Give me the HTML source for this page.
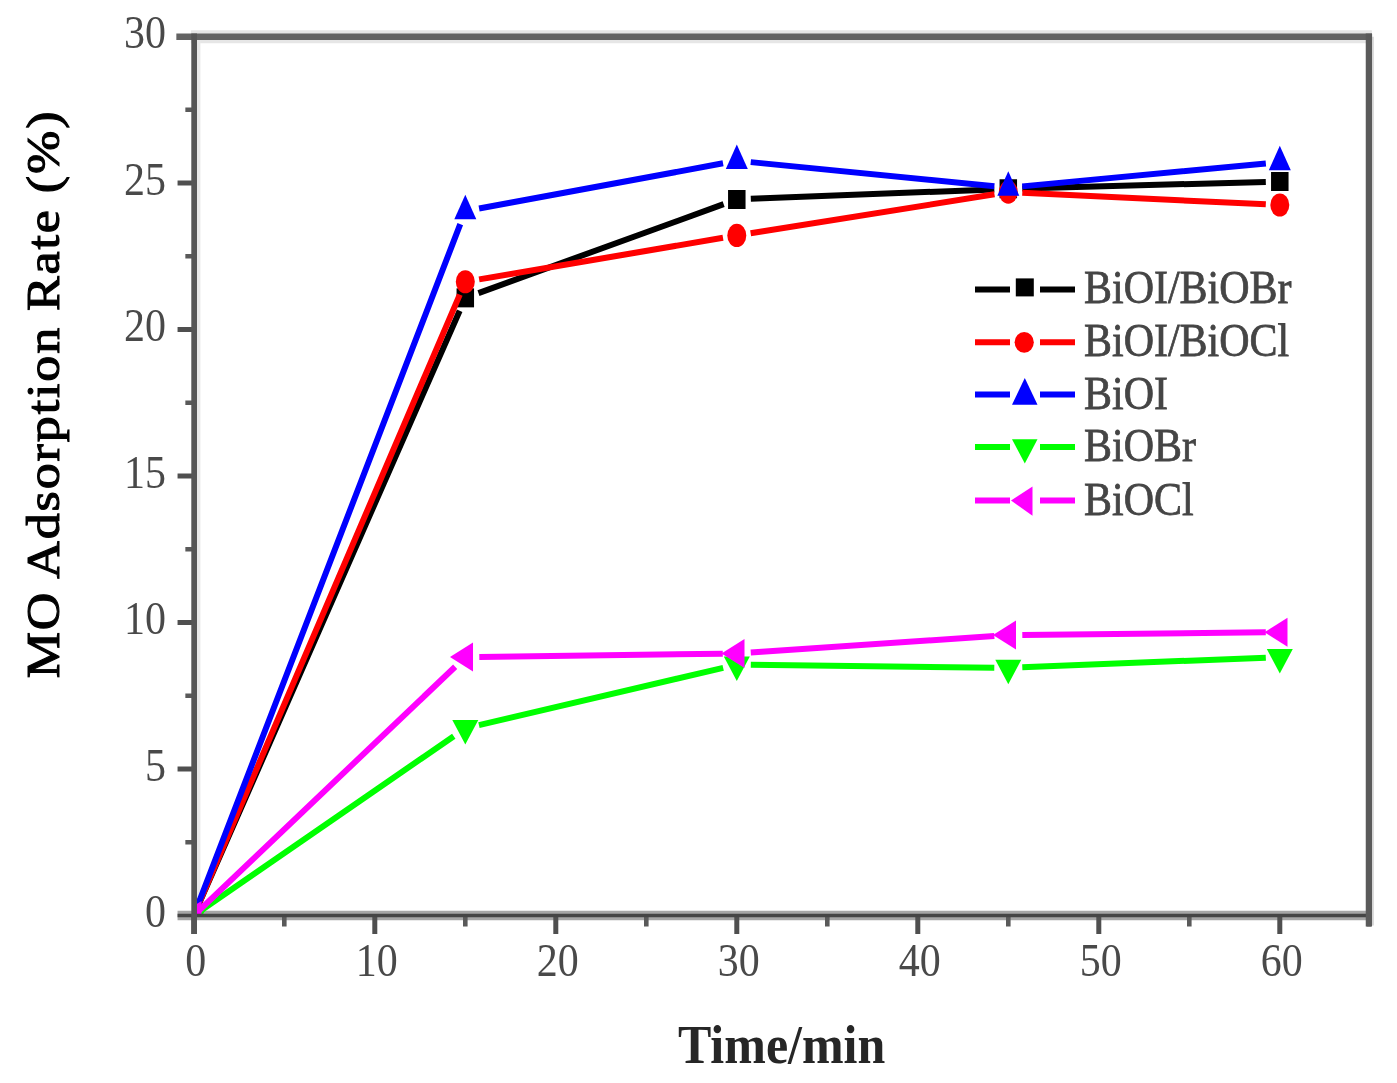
<!DOCTYPE html><html><head><meta charset="utf-8"><style>
html,body{margin:0;padding:0;background:#fff;}
svg{display:block;}
text{font-family:"Liberation Serif",serif;}
</style></head><body>
<svg width="1397" height="1083" viewBox="0 0 1397 1083">
<defs><filter id="bl" x="0" y="0" width="1" height="1"><feGaussianBlur stdDeviation="0.75"/></filter><clipPath id="pc"><rect x="194.3" y="36.6" width="1174.7" height="878.9"/></clipPath></defs>
<rect width="1397" height="1083" fill="#fff"/><g filter="url(#bl)">
<path d="M190.85,36.75H1371.9" stroke="#e6e6e6" stroke-width="13" fill="none"/>
<path d="M198.6,36.75V915.5" stroke="#e8e8e8" stroke-width="3.6" fill="none"/>
<path d="M1373.7,36.75V925.5" stroke="#dcdcdc" stroke-width="3.4" fill="none"/>
<path d="M177.54999999999998,915.5H1371.9" stroke="#a6a6a6" stroke-width="9.4" fill="none"/>
<g clip-path="url(#pc)">
<path d="M193.80,915.50L459.67,310.67M478.46,293.08L723.64,204.18M750.79,198.86L994.31,189.40M1022.29,188.48L1265.81,181.91" stroke="#000000" stroke-width="6.0" fill="none"/>
<polygon points="185.05,906.00 202.55,906.00 202.55,925.00 185.05,925.00" fill="#000000"/>
<polygon points="456.55,288.36 474.05,288.36 474.05,307.36 456.55,307.36" fill="#000000"/>
<polygon points="728.05,189.91 745.55,189.91 745.55,208.91 728.05,208.91" fill="#000000"/>
<polygon points="999.55,179.36 1017.05,179.36 1017.05,198.36 999.55,198.36" fill="#000000"/>
<polygon points="1271.05,172.03 1288.55,172.03 1288.55,191.03 1271.05,191.03" fill="#000000"/>
<path d="M193.80,915.50L459.79,294.61M479.10,279.39L723.00,237.80M750.62,233.24L994.48,194.29M1022.28,192.75L1265.82,204.31" stroke="#ff0000" stroke-width="6.0" fill="none"/>
<ellipse cx="193.80" cy="915.50" rx="9.5" ry="11.6" fill="#ff0000"/>
<ellipse cx="465.30" cy="281.74" rx="9.5" ry="11.6" fill="#ff0000"/>
<ellipse cx="736.80" cy="235.45" rx="9.5" ry="11.6" fill="#ff0000"/>
<ellipse cx="1008.30" cy="192.08" rx="9.5" ry="11.6" fill="#ff0000"/>
<ellipse cx="1279.80" cy="204.98" rx="9.5" ry="11.6" fill="#ff0000"/>
<path d="M193.80,915.50L460.26,224.19M479.06,208.57L723.04,163.29M750.73,162.12L994.37,186.30M1022.24,186.38L1265.86,163.51" stroke="#0000ff" stroke-width="6.0" fill="none"/>
<polygon points="193.80,899.17 204.80,923.67 182.80,923.67" fill="#0000ff"/>
<polygon points="465.30,194.79 476.30,219.29 454.30,219.29" fill="#0000ff"/>
<polygon points="736.80,144.40 747.80,168.90 725.80,168.90" fill="#0000ff"/>
<polygon points="1008.30,171.35 1019.30,195.85 997.30,195.85" fill="#0000ff"/>
<polygon points="1279.80,145.86 1290.80,170.36 1268.80,170.36" fill="#0000ff"/>
<path d="M193.80,915.50L453.77,736.22M478.93,725.08L723.17,667.88M750.80,664.86L994.30,667.75M1022.29,667.36L1265.81,657.63" stroke="#00ff00" stroke-width="6.0" fill="none"/>
<polygon points="180.80,907.33 206.80,907.33 193.80,931.83" fill="#00ff00"/>
<polygon points="452.30,720.11 478.30,720.11 465.30,744.61" fill="#00ff00"/>
<polygon points="723.80,656.53 749.80,656.53 736.80,681.03" fill="#00ff00"/>
<polygon points="995.30,659.75 1021.30,659.75 1008.30,684.25" fill="#00ff00"/>
<polygon points="1266.80,648.91 1292.80,648.91 1279.80,673.41" fill="#00ff00"/>
<path d="M193.80,915.50L455.16,666.73M479.30,656.89L722.80,653.74M750.77,652.61L994.33,636.05M1022.30,634.95L1265.80,632.32" stroke="#ff00ff" stroke-width="6.0" fill="none"/>
<polygon points="178.47,915.50 201.47,901.00 201.47,930.00" fill="#ff00ff"/>
<polygon points="449.97,657.07 472.97,642.57 472.97,671.57" fill="#ff00ff"/>
<polygon points="721.47,653.56 744.47,639.06 744.47,668.06" fill="#ff00ff"/>
<polygon points="992.97,635.10 1015.97,620.60 1015.97,649.60" fill="#ff00ff"/>
<polygon points="1264.47,632.17 1287.47,617.67 1287.47,646.67" fill="#ff00ff"/>
</g>
<path d="M177.54999999999998,769.00H193.85M177.54999999999998,622.50H193.85M177.54999999999998,476.00H193.85M177.54999999999998,329.50H193.85M177.54999999999998,183.00H193.85M177.54999999999998,36.50H193.85M193.85,915.5V934.0M374.80,915.5V934.0M555.80,915.5V934.0M736.80,915.5V934.0M917.80,915.5V934.0M1098.80,915.5V934.0M1279.80,915.5V934.0" stroke="#505050" stroke-width="5.0" fill="none"/>
<path d="M185.35,842.25H193.85M185.35,695.75H193.85M185.35,549.25H193.85M185.35,402.75H193.85M185.35,256.25H193.85M185.35,109.75H193.85M284.30,915.5V926.5M465.30,915.5V926.5M646.30,915.5V926.5M827.30,915.5V926.5M1008.30,915.5V926.5M1189.30,915.5V926.5M1368.90,915.5V926.5" stroke="#5a5a5a" stroke-width="4.6" fill="none"/>
<path d="M177.54999999999998,915.5H1371.9" stroke="#444" stroke-width="3.4" fill="none"/>
<path d="M176.35,36.75H1372.0500000000002" stroke="#636363" stroke-width="6.3" fill="none"/>
<path d="M194.15,33.6V934.0" stroke="#555" stroke-width="5.7" fill="none"/>
<path d="M1368.9,33.6V926.5" stroke="#5a5a5a" stroke-width="6.3" fill="none"/>
<text transform="translate(166,927.00) scale(1,1.1)" font-size="42" fill="#4a4a4a" text-anchor="end">0</text>
<text transform="translate(166,780.50) scale(1,1.1)" font-size="42" fill="#4a4a4a" text-anchor="end">5</text>
<text transform="translate(166,634.00) scale(1,1.1)" font-size="42" fill="#4a4a4a" text-anchor="end">10</text>
<text transform="translate(166,487.50) scale(1,1.1)" font-size="42" fill="#4a4a4a" text-anchor="end">15</text>
<text transform="translate(166,341.00) scale(1,1.1)" font-size="42" fill="#4a4a4a" text-anchor="end">20</text>
<text transform="translate(166,194.50) scale(1,1.1)" font-size="42" fill="#4a4a4a" text-anchor="end">25</text>
<text transform="translate(166,48.00) scale(1,1.1)" font-size="42" fill="#4a4a4a" text-anchor="end">30</text>
<text transform="translate(195.80,976) scale(1,1.1)" font-size="42" fill="#4a4a4a" text-anchor="middle">0</text>
<text transform="translate(376.80,976) scale(1,1.1)" font-size="42" fill="#4a4a4a" text-anchor="middle">10</text>
<text transform="translate(557.80,976) scale(1,1.1)" font-size="42" fill="#4a4a4a" text-anchor="middle">20</text>
<text transform="translate(738.80,976) scale(1,1.1)" font-size="42" fill="#4a4a4a" text-anchor="middle">30</text>
<text transform="translate(919.80,976) scale(1,1.1)" font-size="42" fill="#4a4a4a" text-anchor="middle">40</text>
<text transform="translate(1100.80,976) scale(1,1.1)" font-size="42" fill="#4a4a4a" text-anchor="middle">50</text>
<text transform="translate(1281.80,976) scale(1,1.1)" font-size="42" fill="#4a4a4a" text-anchor="middle">60</text>
<text transform="translate(59,394) rotate(-90) scale(1.107,1)" font-size="47" font-weight="normal" fill="#000" stroke="#000" stroke-width="1.1" letter-spacing="1.7" text-anchor="middle">MO Adsorption Rate (%)</text>
<text transform="translate(781.6,1063) scale(1,1.1)" font-size="50" font-weight="bold" fill="#262626" text-anchor="middle">Time/min</text>
<path d="M975,289.4H1010M1040,289.4H1075" stroke="#000000" stroke-width="6.0" fill="none"/>
<rect x="1015.8" y="278.40" width="18" height="18" fill="#000000"/>
<text transform="translate(1084,303.40) scale(1,1.1)" font-size="42" fill="#444" stroke="#444" stroke-width="0.7">BiOI/BiOBr</text>
<path d="M975,342.3H1010M1040,342.3H1075" stroke="#ff0000" stroke-width="6.0" fill="none"/>
<ellipse cx="1024.2" cy="342.30" rx="9.6" ry="10.4" fill="#ff0000"/>
<text transform="translate(1084,356.30) scale(1,1.1)" font-size="42" fill="#444" stroke="#444" stroke-width="0.7">BiOI/BiOCl</text>
<path d="M975,394.6H1010M1040,394.6H1075" stroke="#0000ff" stroke-width="6.0" fill="none"/>
<polygon points="1024.8,378.00 1037.5,404.80 1012,404.80" fill="#0000ff"/>
<text transform="translate(1084,408.60) scale(1,1.1)" font-size="42" fill="#444" stroke="#444" stroke-width="0.7">BiOI</text>
<path d="M975,447.0H1010M1040,447.0H1075" stroke="#00ff00" stroke-width="6.0" fill="none"/>
<polygon points="1012,439.20 1037.5,439.20 1024.8,463.40" fill="#00ff00"/>
<text transform="translate(1084,461.00) scale(1,1.1)" font-size="42" fill="#444" stroke="#444" stroke-width="0.7">BiOBr</text>
<path d="M975,500.5H1010M1040,500.5H1075" stroke="#ff00ff" stroke-width="6.0" fill="none"/>
<polygon points="1011,500.50 1032.5,486.60 1032.5,515.70" fill="#ff00ff"/>
<text transform="translate(1084,514.50) scale(1,1.1)" font-size="42" fill="#444" stroke="#444" stroke-width="0.7">BiOCl</text>
</g></svg></body></html>
